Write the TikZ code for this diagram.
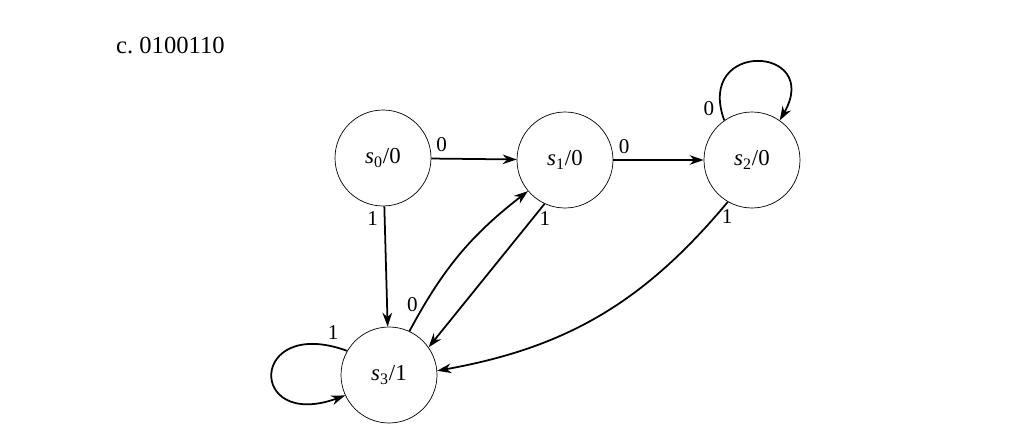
\documentclass[tikz,border=0pt]{standalone}
\usepackage{fontspec}
\setmainfont{Liberation Serif}
\usetikzlibrary{arrows.meta}
\newcommand{\stname}[1]{\textit{s}\textsubscript{#1}}
\tikzset{
  state/.style={draw, circle, minimum size=1.92cm, inner sep=0pt, font=\fontsize{13}{15}\selectfont},
  trans/.style={-{Stealth[length=8pt,width=5.5pt]}, line width=1pt},
  lbl/.style={font=\fontsize{12}{14}\selectfont}
}
\begin{document}
\begin{tikzpicture}
  \useasboundingbox (0,0) rectangle (20.48,8.62);
  \node[anchor=west, font=\fontsize{14}{16}\selectfont] (title) at (2.2,7.72) {c.\ 0100110};
  % states
  \node[state] (s0) at (7.66,5.46) {\stname{0}/0};
  \node[state] (s1) at (11.3,5.42) {\stname{1}/0};
  \node[state] (s2) at (15.04,5.42) {\stname{2}/0};
  \node[state] (s3) at (7.78,1.12) {\stname{3}/1};
  % transitions
  \draw[trans] (s0) -- node[lbl, pos=0.12, above] {0} (s1);
  \draw[trans] (s1) -- node[lbl, pos=0.12, above] {0} (s2);
  \draw[trans] (s0) -- node[lbl, pos=0.1, left] {1} (s3);
  \draw[trans] (s3.65) to[bend left=12] node[lbl, pos=0.15, left] {0} (s1.220);
  \draw[trans] (s1.245) -- node[lbl, pos=0.1, right] {1} (s3.35);
  \draw[trans] (s2.240) to[bend left=20] node[lbl, pos=0.05, right] {1} (s3.5);
  \draw[trans] (s2.125) to[out=110, in=60, looseness=4] node[lbl, pos=0.05, left] {0} (s2.55);
  \draw[trans] (s3.150) to[out=160, in=200, looseness=6] node[lbl, pos=0.05, above] {1} (s3.205);
\end{tikzpicture}
\end{document}
